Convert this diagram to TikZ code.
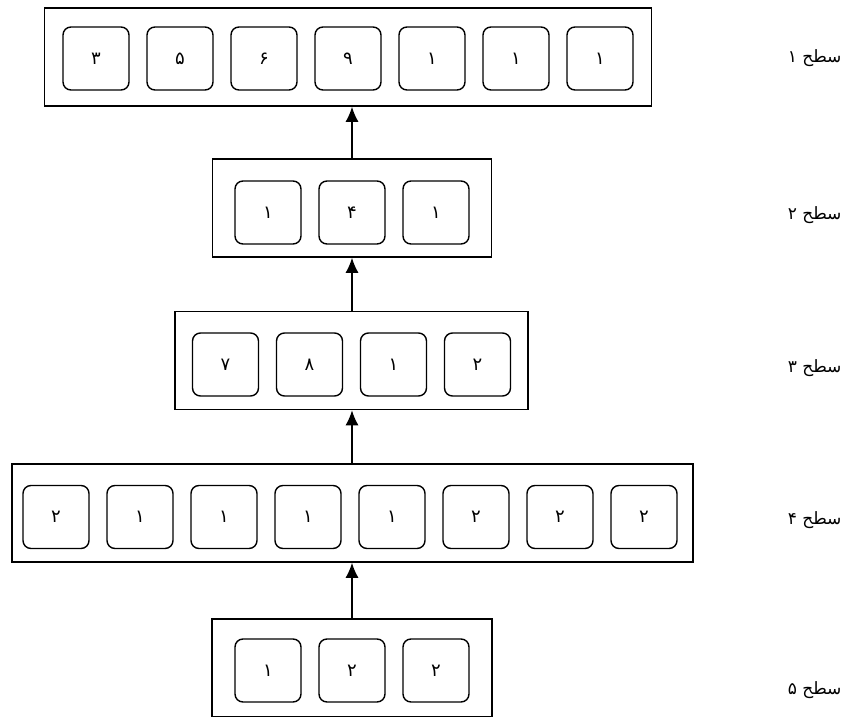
\documentclass[tikz,border=0pt]{standalone}
\usepackage{fontspec}
\usepackage{tikz}
\usetikzlibrary{arrows.meta}
\newfontfamily\arabicfont[Script=Arabic]{DejaVu Sans}
\TeXXeTstate=1

\begin{document}
\begin{tikzpicture}[
      x=1pt, y=-1pt,
      lev/.style={draw=black, line width=1.5pt, minimum height=98pt, inner sep=0pt},
      cell/.style={draw=black, line width=1.4pt, rounded corners=8pt,
        minimum width=66pt, minimum height=63pt, inner sep=0pt,
        font=\arabicfont\fontsize{18}{20}\selectfont},
      lab/.style={font=\arabicfont\fontsize{17}{19}\selectfont, anchor=east},
      up/.style={draw=black, line width=1.6pt, -{Latex[length=15pt,width=13pt]}}
    ]
    \useasboundingbox (0,0) rectangle (849,717);

    % ---- level 1: seven cells ----
    \node[lev, minimum width=607pt] (lev1) at (348,57) {};
    \node[cell] (c11) at (96,58.5)  {۳};
    \node[cell] (c12) at (180,58.5) {۵};
    \node[cell] (c13) at (264,58.5) {۶};
    \node[cell] (c14) at (348,58.5) {۹};
    \node[cell] (c15) at (432,58.5) {۱};
    \node[cell] (c16) at (516,58.5) {۱};
    \node[cell] (c17) at (600,58.5) {۱};

    % ---- level 2: three cells ----
    \node[lev, minimum width=279pt] (lev2) at (352,208) {};
    \node[cell] (c21) at (268,212.5) {۱};
    \node[cell] (c22) at (352,212.5) {۴};
    \node[cell] (c23) at (436,212.5) {۱};

    % ---- level 3: four cells ----
    \node[lev, minimum width=353pt] (lev3) at (351.5,360.5) {};
    \node[cell] (c31) at (225.5,364.5) {۷};
    \node[cell] (c32) at (309.5,364.5) {۸};
    \node[cell] (c33) at (393.5,364.5) {۱};
    \node[cell] (c34) at (477.5,364.5) {۲};

    % ---- level 4: eight cells ----
    \node[lev, minimum width=681pt] (lev4) at (352.5,513) {};
    \node[cell] (c41) at (56,517)  {۲};
    \node[cell] (c42) at (140,517) {۱};
    \node[cell] (c43) at (224,517) {۱};
    \node[cell] (c44) at (308,517) {۱};
    \node[cell] (c45) at (392,517) {۱};
    \node[cell] (c46) at (476,517) {۲};
    \node[cell] (c47) at (560,517) {۲};
    \node[cell] (c48) at (644,517) {۲};

    % ---- level 5: three cells ----
    \node[lev, minimum width=280pt] (lev5) at (352,668) {};
    \node[cell] (c51) at (268,670.5) {۱};
    \node[cell] (c52) at (352,670.5) {۲};
    \node[cell] (c53) at (436,670.5) {۲};

    % ---- arrows between levels ----
    \draw[up] (lev5.north) -- (lev4.south -| lev5.north);
    \draw[up] (lev4.north -| lev5.north) -- (lev3.south -| lev5.north);
    \draw[up] (lev3.north -| lev5.north) -- (lev2.south -| lev5.north);
    \draw[up] (lev2.north -| lev5.north) -- (lev1.south -| lev5.north);

    % ---- level names on the right ----
    \node[lab] (lab1) at (845,58)  {\beginR سطح ۱\endR};
    \node[lab] (lab2) at (845,215) {\beginR سطح ۲\endR};
    \node[lab] (lab3) at (845,368) {\beginR سطح ۳\endR};
    \node[lab] (lab4) at (845,520) {\beginR سطح ۴\endR};
    \node[lab] (lab5) at (845,690) {\beginR سطح ۵\endR};
  \end{tikzpicture}
\end{document}
